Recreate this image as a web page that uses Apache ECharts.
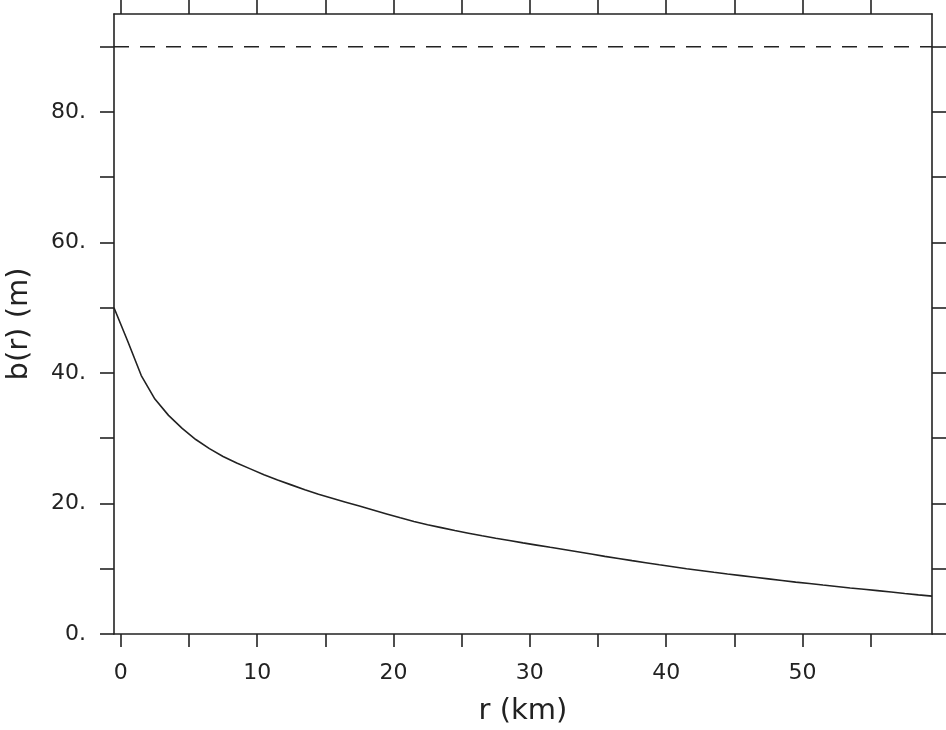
<!DOCTYPE html>
<html>
<head>
<meta charset="utf-8">
<script src="https://cdn.jsdelivr.net/npm/echarts@6/dist/echarts.min.js"></script>
<style>
  html, body { margin: 0; padding: 0; background: #fff; }
  #chart { width: 946px; height: 730px; }
</style>
</head>
<body>
<div id="chart"></div>
<script>
// r (km) sample positions and b(r) (m)
const rValues = [
  -0.5, 0.5, 1.5, 2.5, 3.5, 4.5, 5.5, 6.5, 7.5, 8.5, 9.5,
  10.5, 11.5, 12.5, 13.5, 14.5, 15.5, 16.5, 17.5, 18.5, 19.5,
  20.5, 21.5, 22.5, 23.5, 24.5, 25.5, 26.5, 27.5, 28.5, 29.5,
  30.5, 31.5, 32.5, 33.5, 34.5, 35.5, 36.5, 37.5, 38.5, 39.5,
  40.5, 41.5, 42.5, 43.5, 44.5, 45.5, 46.5, 47.5, 48.5, 49.5,
  50.5, 51.5, 52.5, 53.5, 54.5, 55.5, 56.5, 57.5, 58.5, 59.5
];
const bValues = [
  50.0, 44.9, 39.6, 36.0, 33.5, 31.5, 29.8, 28.4, 27.2, 26.2, 25.3,
  24.4, 23.6, 22.85, 22.1, 21.4, 20.8, 20.2, 19.6, 19.0, 18.4,
  17.8, 17.25, 16.75, 16.3, 15.85, 15.45, 15.05, 14.68, 14.32, 13.96,
  13.62, 13.28, 12.95, 12.6, 12.25, 11.9, 11.57, 11.24, 10.92, 10.6,
  10.3, 10.0, 9.73, 9.46, 9.2, 8.95, 8.7, 8.45, 8.2, 7.95,
  7.73, 7.5, 7.28, 7.06, 6.85, 6.64, 6.43, 6.21, 6.0, 5.8
];
const refLevel = 90;

const xTicks = [0, 5, 10, 15, 20, 25, 30, 35, 40, 45, 50, 55];
const xLabels = [0, 10, 20, 30, 40, 50];
const yTicks = [0, 10, 20, 30, 40, 50, 60, 70, 80, 90];
const yLabels = [0, 20, 40, 60, 80];

const xMin = -0.5, xMax = 59.5;
const yMin = 0, yMax = 95;

const fontFamily = "'DejaVu Sans', sans-serif";
const ink = '#222';

const myChart = echarts.init(document.getElementById('chart'));

function tickAxis(extra) {
    return Object.assign({
        type: 'value',
        axisLine: { show: true, onZero: false, lineStyle: { color: ink, width: 1.6 } },
        splitLine: { show: false }
    }, extra);
}

const option = {
    animation: false,
    backgroundColor: '#fff',
    grid: { left: 114, right: 14, top: 14, bottom: 96, outerBoundsMode: 'none', containLabel: false },
    xAxis: [
        tickAxis({
            position: 'bottom', min: xMin, max: xMax,
            axisTick: { show: true, length: 13, customValues: xTicks, lineStyle: { color: ink, width: 1.6 } },
            axisLabel: { customValues: xLabels, margin: 28, fontSize: 22, color: ink, fontFamily: fontFamily },
            name: 'r (km)', nameLocation: 'middle', nameGap: 63,
            nameTextStyle: { fontSize: 29, color: ink, fontFamily: fontFamily }
        }),
        tickAxis({
            position: 'top', min: xMin, max: xMax,
            axisTick: { show: true, length: 14, customValues: xTicks, lineStyle: { color: ink, width: 1.6 } },
            axisLabel: { show: false }
        })
    ],
    yAxis: [
        tickAxis({
            position: 'left', min: yMin, max: yMax,
            axisTick: { show: true, length: 14, customValues: yTicks, lineStyle: { color: ink, width: 1.6 } },
            axisLabel: {
                customValues: yLabels, margin: 28, fontSize: 22, color: ink, fontFamily: fontFamily,
                formatter: v => v + '.'
            },
            name: 'b(r) (m)', nameLocation: 'middle', nameGap: 80,
            nameTextStyle: { fontSize: 29, color: ink, fontFamily: fontFamily }
        }),
        tickAxis({
            position: 'right', min: yMin, max: yMax,
            axisTick: { show: true, length: 14, customValues: yTicks, lineStyle: { color: ink, width: 1.6 } },
            axisLabel: { show: false }
        })
    ],
    series: [
        {
            type: 'line',
            xAxisIndex: 0, yAxisIndex: 0,
            data: rValues.map((r, i) => [r, bValues[i]]),
            showSymbol: false,
            lineStyle: { color: ink, width: 1.6 },
            silent: true
        },
        {
            type: 'line',
            xAxisIndex: 0, yAxisIndex: 0,
            data: [[xMin, refLevel], [xMax, refLevel]],
            showSymbol: false,
            lineStyle: { color: ink, width: 1.5, type: [15, 11] },
            silent: true
        }
    ]
};
myChart.setOption(option);
</script>
</body>
</html>
